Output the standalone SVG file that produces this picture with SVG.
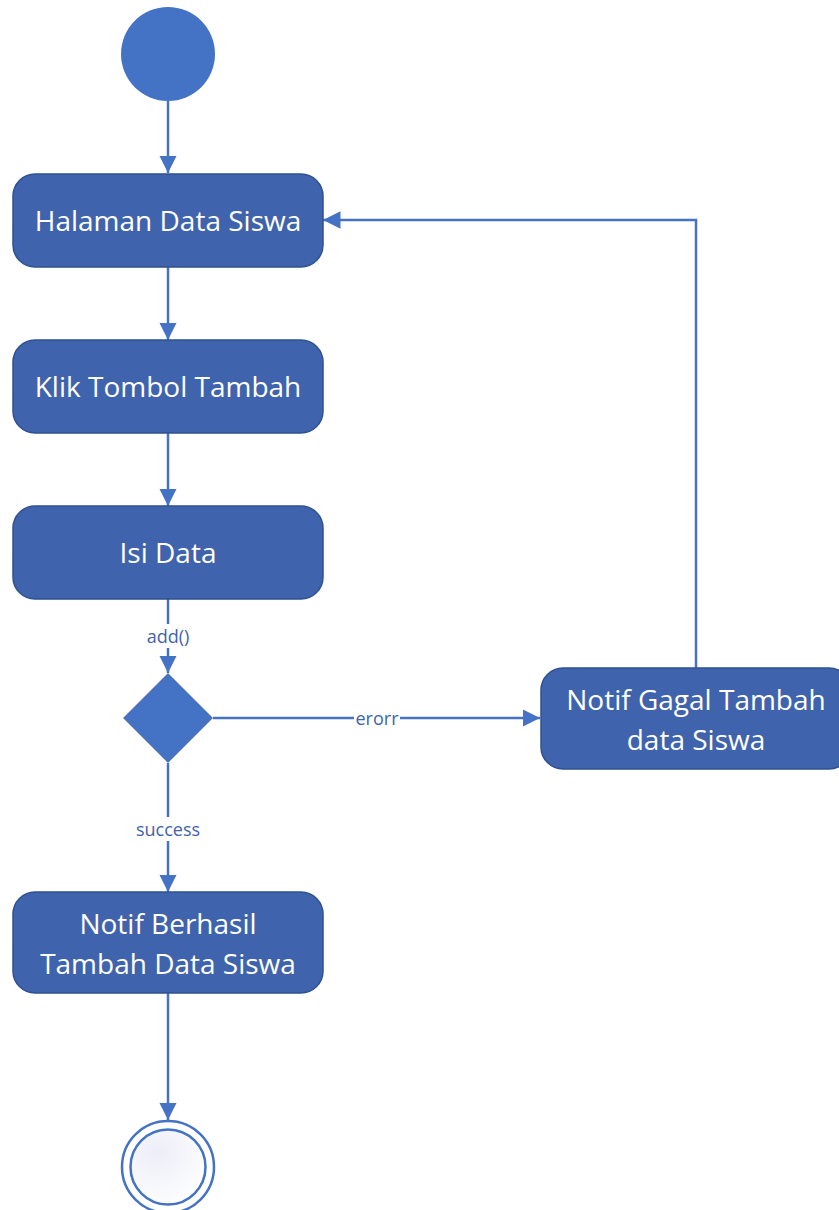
<svg xmlns="http://www.w3.org/2000/svg" width="839" height="1210" viewBox="0 0 839 1210">
  <style>
    .act { fill: #3F63AC; stroke: #2F528F; stroke-width: 1.5; }
    .act-text { font-family: "Open Sans", "Noto Sans", sans-serif; font-size: 28px; fill: #FFFFFF; text-anchor: middle; dominant-baseline: central; }
    .flow { fill: none; stroke: #4472C4; stroke-width: 2.5; }
    .guard { font-family: "Open Sans", "Noto Sans", sans-serif; font-size: 18px; fill: #3F63AC; text-anchor: middle; dominant-baseline: central; }
  </style>
  <defs>
    <marker id="arrow" viewBox="0 0 10 10" refX="10" refY="5" markerWidth="7" markerHeight="7" markerUnits="strokeWidth" orient="auto">
      <path d="M0,0 L10,5 L0,10 z" fill="#4472C4"/>
    </marker>
    <radialGradient id="endFill" cx="0.35" cy="0.3" r="0.8">
      <stop offset="0" stop-color="#ECEEF7"/>
      <stop offset="1" stop-color="#FFFFFF"/>
    </radialGradient>
  </defs>
  <rect width="839" height="1210" fill="#FFFFFF"/>

  <!-- connectors -->
  <g id="connectors">
    <line class="flow" x1="168" y1="101" x2="168" y2="173" marker-end="url(#arrow)"/>
    <line class="flow" x1="168" y1="267" x2="168" y2="340" marker-end="url(#arrow)"/>
    <line class="flow" x1="168" y1="433" x2="168" y2="506" marker-end="url(#arrow)"/>
    <line class="flow" x1="168" y1="599" x2="168" y2="673" marker-end="url(#arrow)"/>
    <line class="flow" x1="213" y1="718" x2="540" y2="718" marker-end="url(#arrow)"/>
    <polyline class="flow" points="696,668 696,220 323,220" marker-end="url(#arrow)"/>
    <line class="flow" x1="168" y1="763" x2="168" y2="892" marker-end="url(#arrow)"/>
    <line class="flow" x1="168" y1="993" x2="168" y2="1120" marker-end="url(#arrow)"/>
    <rect x="142" y="624" width="52" height="24" fill="#FFFFFF"/>
    <text class="guard" x="168" y="636">add()</text>
    <rect x="354" y="706" width="46" height="24" fill="#FFFFFF"/>
    <text class="guard" x="377" y="718">erorr</text>
    <rect x="132" y="817" width="72" height="24" fill="#FFFFFF"/>
    <text class="guard" x="168" y="829">success</text>
  </g>

  <g id="start">
    <circle cx="168" cy="54" r="47" fill="#4472C4"/>
  </g>

  <g id="halaman-data-siswa">
    <rect class="act" x="13" y="174" width="310" height="93" rx="22"/>
    <text class="act-text" x="168" y="220">Halaman Data Siswa</text>
  </g>

  <g id="klik-tombol-tambah">
    <rect class="act" x="13" y="340" width="310" height="93" rx="22"/>
    <text class="act-text" x="168" y="386">Klik Tombol Tambah</text>
  </g>

  <g id="isi-data">
    <rect class="act" x="13" y="506" width="310" height="93" rx="22"/>
    <text class="act-text" x="168" y="552">Isi Data</text>
  </g>

  <g id="decision">
    <polygon points="168,673 213,718 168,763 123,718" fill="#4472C4" stroke="#BFBFBF" stroke-width="0.8"/>
  </g>

  <g id="notif-gagal">
    <rect class="act" x="541" y="668" width="310" height="101" rx="22"/>
    <text class="act-text" x="696" y="699">Notif Gagal Tambah</text>
    <text class="act-text" x="696" y="739">data Siswa</text>
  </g>

  <g id="notif-berhasil">
    <rect class="act" x="13" y="892" width="310" height="101" rx="22"/>
    <text class="act-text" x="168" y="923">Notif Berhasil</text>
    <text class="act-text" x="168" y="963">Tambah Data Siswa</text>
  </g>

  <g id="end">
    <circle cx="168" cy="1167" r="46" fill="#FFFFFF" stroke="#4472C4" stroke-width="2.5"/>
    <circle cx="168" cy="1167" r="37.5" fill="url(#endFill)" stroke="#4472C4" stroke-width="2.5"/>
  </g>
</svg>
